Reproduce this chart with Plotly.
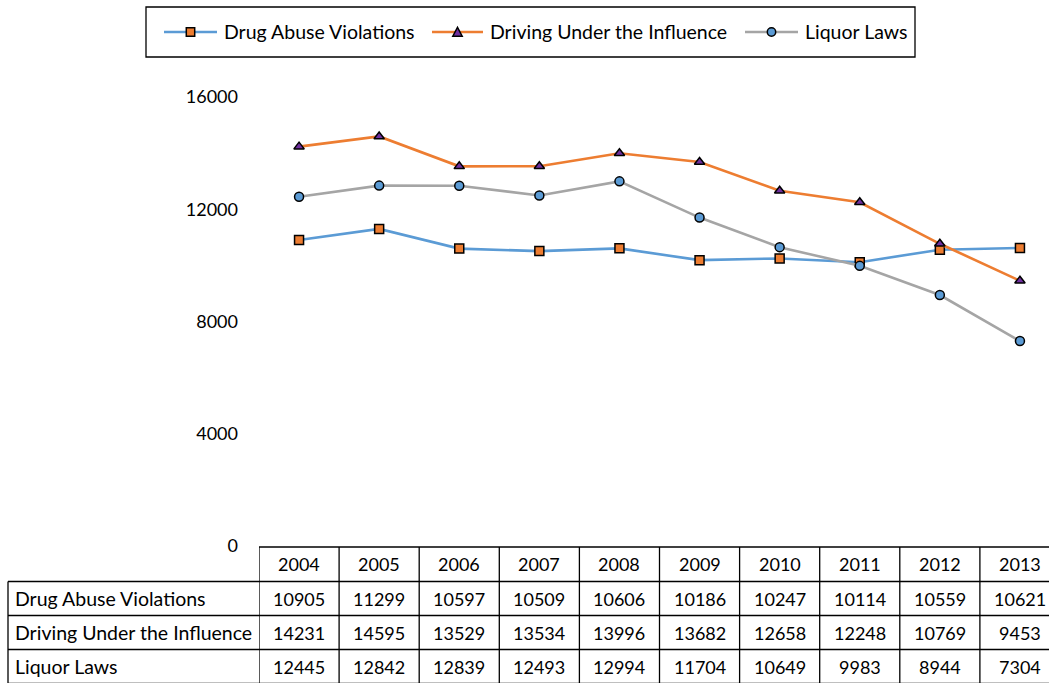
import plotly.graph_objects as go

# Annual arrest counts by offence
years = ["2004", "2005", "2006", "2007", "2008", "2009", "2010", "2011", "2012", "2013"]
drug_abuse = [10905, 11299, 10597, 10509, 10606, 10186, 10247, 10114, 10559, 10621]
dui = [14231, 14595, 13529, 13534, 13996, 13682, 12658, 12248, 10769, 9453]
liquor = [12445, 12842, 12839, 12493, 12994, 11704, 10649, 9983, 8944, 7304]
y_ticks = [0, 4000, 8000, 12000, 16000]

series = [
    ("Drug Abuse Violations", drug_abuse, "#5B9BD5", "square", "#ED7D31"),
    ("Driving Under the Influence", dui, "#ED7D31", "triangle-up", "#7030A0"),
    ("Liquor Laws", liquor, "#A5A5A5", "circle", "#5B9BD5"),
]

W, H = 1049, 683
ML, MR, MT, MB = 259, 0, 97, 137
PW, PH = W - ML - MR, H - MT - MB
CAT_W = 80.1
Y_MAX = 16000
FONT = "Lato, 'Liberation Sans', Arial, sans-serif"
NUM_SIZE = 18
TXT_SIZE = 19.5


def py2paper(py):
    return (H - MB - py) / PH


def px2paper(px):
    return (px - ML) / PW


xs = list(range(len(years)))
fig = go.Figure()
for name, vals, lc, sym, mc in series:
    fig.add_trace(go.Scatter(
        x=xs, y=vals, name=name, mode="lines+markers", showlegend=False,
        line=dict(color=lc, width=2.6),
        marker=dict(symbol=sym, size=9, color=mc, line=dict(color="black", width=1.5)),
        cliponaxis=False,
    ))

shapes = []
annotations = []
line_style = dict(color="black", width=1.3)


def legend_marker(sym, cx, cy, fill, r=4.2):
    """Key symbol for the hand-built legend, in page pixels -> paper coords."""
    base = dict(xref="paper", yref="paper", fillcolor=fill,
                line=dict(color="black", width=1.5))
    if sym == "square":
        return dict(type="rect", x0=px2paper(cx - r), x1=px2paper(cx + r),
                    y0=py2paper(cy - r), y1=py2paper(cy + r), **base)
    if sym == "circle":
        return dict(type="circle", x0=px2paper(cx - r), x1=px2paper(cx + r),
                    y0=py2paper(cy - r), y1=py2paper(cy + r), **base)
    pts = [(cx, cy - r - 0.5), (cx + r + 0.5, cy + r), (cx - r - 0.5, cy + r)]
    path = "M " + " L ".join(f"{px2paper(x)},{py2paper(y)}" for x, y in pts) + " Z"
    return dict(type="path", path=path, **base)


# ---- legend box with sample line + marker per series
legend_box = (146, 7, 915, 57)
legend_y = 32
legend_items = [(164, 217), (432, 483), (745, 798)]
shapes.append(dict(type="rect", xref="paper", yref="paper",
                   x0=px2paper(legend_box[0]), x1=px2paper(legend_box[2]),
                   y0=py2paper(legend_box[1]), y1=py2paper(legend_box[3]),
                   line=line_style, fillcolor="rgba(0,0,0,0)"))
for (name, _vals, lc, sym, mc), (a, b) in zip(series, legend_items):
    shapes.append(dict(type="line", xref="paper", yref="paper",
                       x0=px2paper(a), x1=px2paper(b),
                       y0=py2paper(legend_y), y1=py2paper(legend_y),
                       line=dict(color=lc, width=2.6)))
    shapes.append(legend_marker(sym, (a + b) / 2, legend_y, mc))
    annotations.append(dict(x=px2paper(b + 5), y=py2paper(legend_y), xref="paper", yref="paper",
                            text=name, showarrow=False, xanchor="left", yanchor="middle",
                            font=dict(family=FONT, size=TXT_SIZE, color="black")))

# ---- data table under the plot
row_tops = [547, 581.5, 615.5, 649.5, 683.5]
n = len(years)
left_px = 8

shapes.append(dict(type="line", xref="x", yref="paper", x0=-0.5, x1=n - 0.5,
                   y0=py2paper(row_tops[0]), y1=py2paper(row_tops[0]), line=line_style))
for r in row_tops[1:]:
    shapes.append(dict(type="line", xref="paper", yref="paper", x0=px2paper(left_px),
                       x1=px2paper(W + 20), y0=py2paper(r), y1=py2paper(r), line=line_style))
shapes.append(dict(type="line", xref="paper", yref="paper", x0=px2paper(left_px),
                   x1=px2paper(left_px), y0=py2paper(row_tops[1]), y1=py2paper(row_tops[-1]),
                   line=line_style))
for k in range(n + 1):
    shapes.append(dict(type="line", xref="x", yref="paper", x0=k - 0.5, x1=k - 0.5,
                       y0=py2paper(row_tops[0]), y1=py2paper(row_tops[-1]), line=line_style))

num_font = dict(family=FONT, size=NUM_SIZE, color="black")
txt_font = dict(family=FONT, size=TXT_SIZE, color="black")
for k, yr in enumerate(years):
    annotations.append(dict(x=k, y=py2paper((row_tops[0] + row_tops[1]) / 2), xref="x",
                            yref="paper", text=yr, showarrow=False, font=num_font,
                            xanchor="center", yanchor="middle"))
for i, (name, vals, *_rest) in enumerate(series):
    yc = py2paper((row_tops[i + 1] + row_tops[i + 2]) / 2)
    annotations.append(dict(x=px2paper(13), y=yc, xref="paper", yref="paper", text=name,
                            showarrow=False, font=txt_font, xanchor="left", yanchor="middle"))
    for k, v in enumerate(vals):
        annotations.append(dict(x=k, y=yc, xref="x", yref="paper", text=str(v),
                                showarrow=False, font=num_font, xanchor="center",
                                yanchor="middle"))

fig.update_layout(
    width=W, height=H,
    margin=dict(l=ML, r=MR, t=MT, b=MB),
    paper_bgcolor="white", plot_bgcolor="white",
    font=dict(family=FONT, size=NUM_SIZE, color="black"),
    showlegend=False,
    xaxis=dict(range=[-0.5, -0.5 + PW / CAT_W], showticklabels=False, showgrid=False,
               zeroline=False, showline=False, ticks=""),
    yaxis=dict(range=[0, Y_MAX], tickvals=y_ticks, ticktext=[str(t) for t in y_ticks],
               showgrid=False, zeroline=False, showline=False, ticks="",
               ticklabelstandoff=20, tickfont=num_font),
    shapes=shapes,
    annotations=annotations,
)

fig.write_html("out.html")
